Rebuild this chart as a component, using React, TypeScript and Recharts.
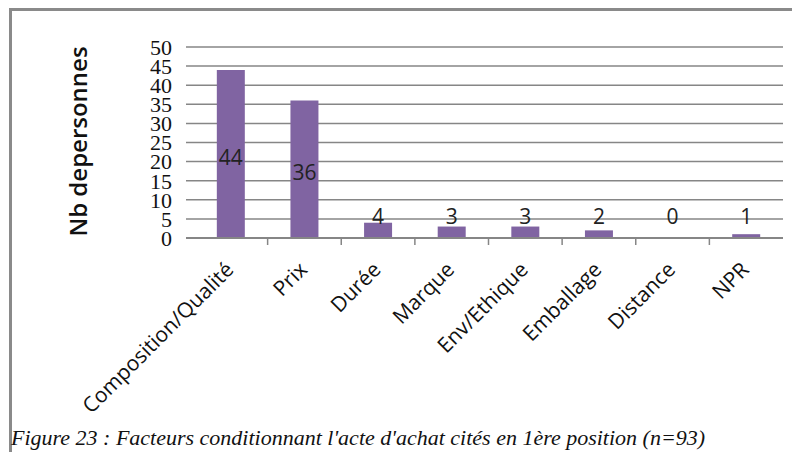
import { BarChart, Bar, XAxis, YAxis, CartesianGrid, LabelList } from 'recharts'

const categories = [
  'Composition/Qualité',
  'Prix',
  'Durée',
  'Marque',
  'Env/Ethique',
  'Emballage',
  'Distance',
  'NPR',
]
const counts = [44, 36, 4, 3, 3, 2, 0, 1]
const yTicks = [0, 5, 10, 15, 20, 25, 30, 35, 40, 45, 50]

const data = categories.map((facteur, i) => ({ facteur, n: counts[i] }))

const W = 792
const H = 452
const margin = { top: 47, right: 9, left: 0, bottom: 0 }
const Y_AXIS_W = 186
const X_AXIS_H = 214
const X_PAD_LEFT = 8
const bandW = (W - margin.left - margin.right - Y_AXIS_W - X_PAD_LEFT) / categories.length

// counts below this sit in the bar's middle, smaller ones are printed above the axis
const INSIDE_MIN = 10

const GRID = '#868686'
const PURPLE = '#8064A2'
const SANS = '"Open Sans", Lato, sans-serif'

function CountText({ x, y, value }: { x: number; y: number; value: number }) {
  return (
    <text x={x} y={y} textAnchor="middle" dominantBaseline="central" fontFamily={SANS} fontSize={21} fill="#222">
      {value}
    </text>
  )
}

// category tick: boundary mark, rotated name, and the count for short bars
// (a zero-height bar gets no label from LabelList, so those are drawn here)
function FactorTick(props: any) {
  const { x, y, payload, index } = props
  const ax = x + 4
  const ay = y + 33
  const n = counts[index]
  return (
    <g>
      {index > 0 && (
        <line x1={x - bandW / 2} x2={x - bandW / 2} y1={y} y2={y + 7} stroke={GRID} strokeWidth={1.5} />
      )}
      {n < INSIDE_MIN && <CountText x={x} y={y - 22} value={n} />}
      <text
        x={ax}
        y={ay}
        transform={`rotate(-45 ${ax} ${ay})`}
        textAnchor="end"
        fontFamily={SANS}
        fontSize={21}
        fill="#111"
      >
        {payload.value}
      </text>
    </g>
  )
}

function CountLabel(props: any) {
  const { x, y, width, height, value } = props
  if (value < INSIDE_MIN) return null
  return <CountText x={x + width / 2} y={y + height / 2 + 3} value={value} />
}

function AxisTitle(props: any) {
  const { viewBox } = props
  const cx = viewBox.x + 77
  const cy = viewBox.y + viewBox.height / 2 - 1
  return (
    <text
      x={cx}
      y={cy}
      transform={`rotate(-90 ${cx} ${cy})`}
      textAnchor="middle"
      dominantBaseline="central"
      fontFamily={SANS}
      fontWeight={600}
      fontSize={24}
      fill="#111"
    >
      Nb depersonnes
    </text>
  )
}

export default function App() {
  return (
    <div style={{ position: 'absolute', left: 0, top: 0, width: W, height: H, background: '#fff', overflow: 'hidden' }}>
      <div style={{ position: 'absolute', left: 9, top: 8, width: W - 9, height: 3, background: '#8a8a8a' }} />
      <div style={{ position: 'absolute', left: 9, top: 8, width: 3, height: H - 8, background: '#8a8a8a' }} />
      <div style={{ position: 'absolute', left: 0, top: 0 }}>
        <BarChart width={W} height={H} data={data} margin={margin} barCategoryGap="31%">
          <CartesianGrid vertical={false} stroke={GRID} strokeWidth={1.5} />
          <XAxis
            dataKey="facteur"
            height={X_AXIS_H}
            interval={0}
            padding={{ left: X_PAD_LEFT, right: 0 }}
            tickLine={false}
            tickSize={0}
            tickMargin={0}
            axisLine={{ stroke: GRID, strokeWidth: 2 }}
            tick={<FactorTick />}
          />
          <YAxis
            width={Y_AXIS_W}
            domain={[0, 50]}
            ticks={yTicks}
            interval={0}
            tickLine={false}
            axisLine={false}
            tickMargin={8}
            tick={{ fontFamily: '"Liberation Serif", serif', fontSize: 22, fill: '#111' }}
            label={<AxisTitle />}
          />
          <Bar dataKey="n" fill={PURPLE} isAnimationActive={false}>
            <LabelList dataKey="n" content={<CountLabel />} />
          </Bar>
        </BarChart>
      </div>
      <div
        style={{
          position: 'absolute',
          left: 11,
          top: 427,
          fontFamily: '"Liberation Serif", serif',
          fontStyle: 'italic',
          fontSize: 22,
          lineHeight: '22px',
          color: '#111',
          whiteSpace: 'nowrap',
        }}
      >
        Figure 23 : Facteurs conditionnant l'acte d'achat cités en 1ère position (n=93)
      </div>
    </div>
  )
}
